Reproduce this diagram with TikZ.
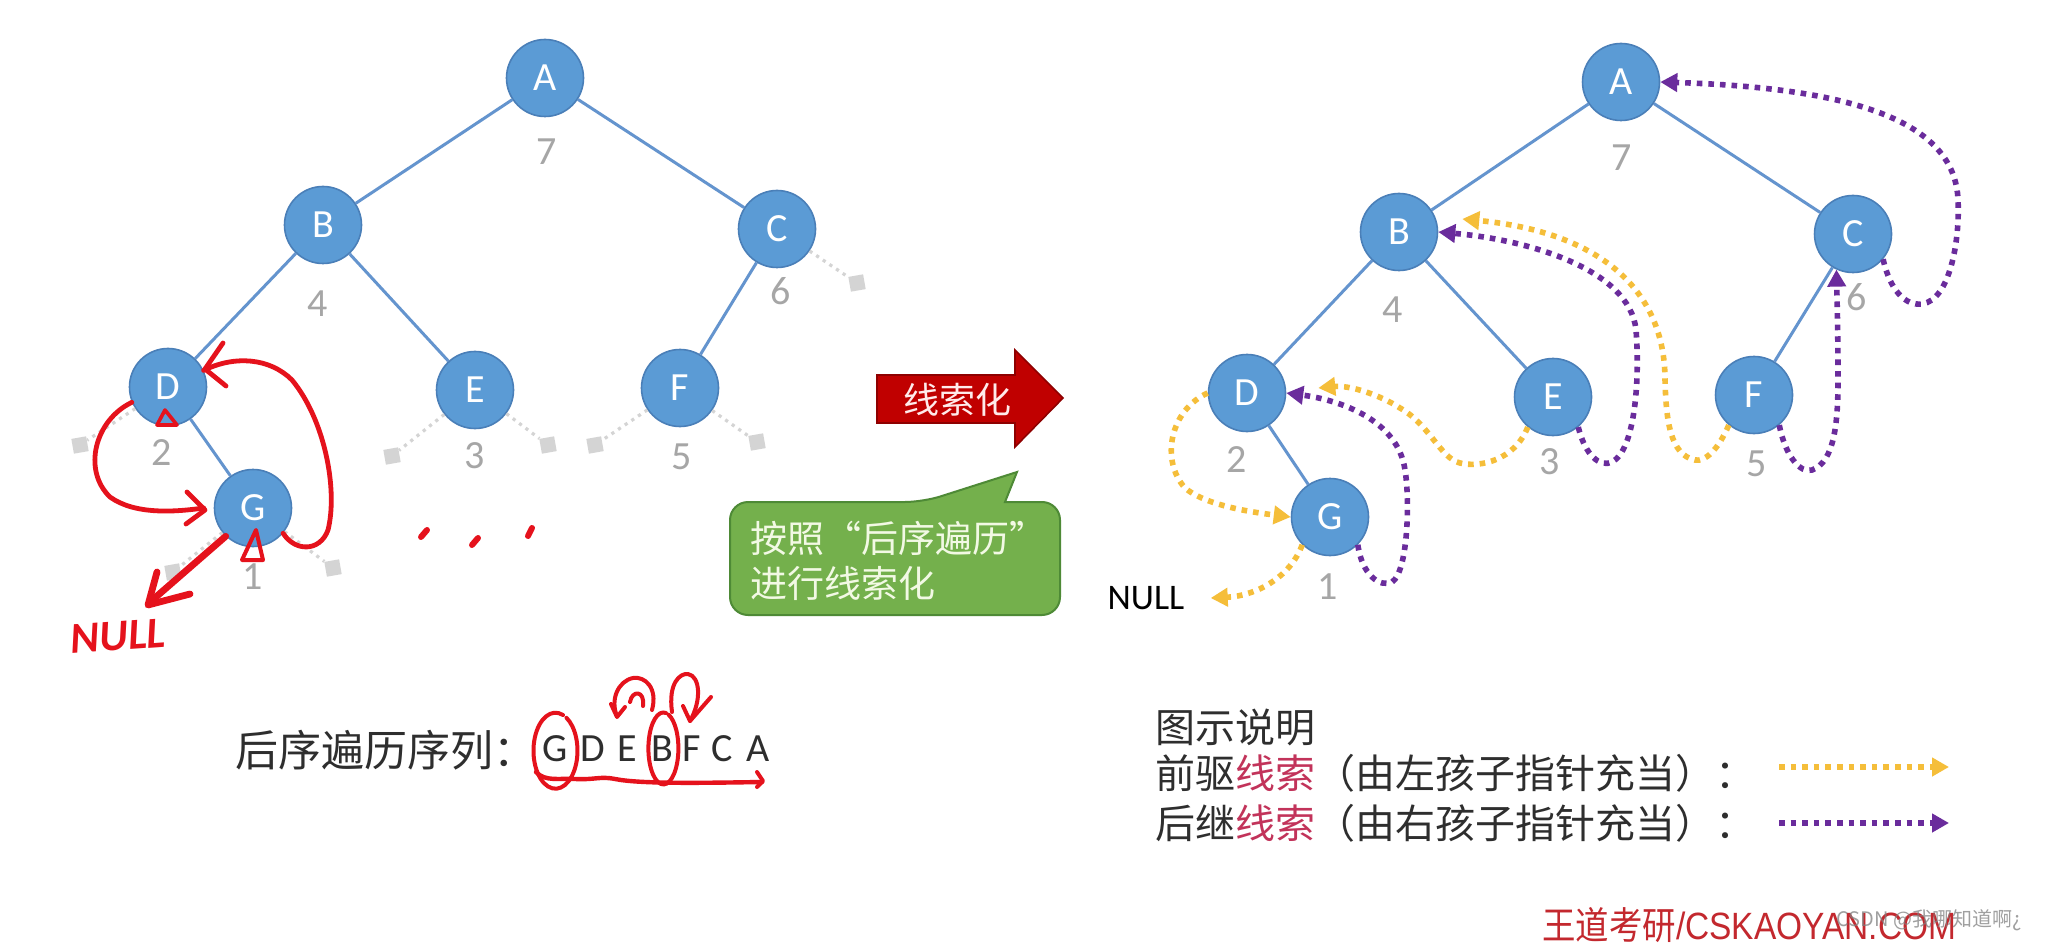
\documentclass[tikz,border=0pt]{standalone}
\usepackage{fontspec}
\setmainfont{Carlito}
\newfontfamily\cjk{Noto Sans CJK SC}
\newfontfamily\arialf{Liberation Sans}
\usetikzlibrary{arrows.meta,calc}
\definecolor{nodefill}{HTML}{5B9BD5}
\definecolor{nodedraw}{HTML}{4A7FB8}
\definecolor{edgec}{HTML}{6494CE}
\definecolor{lblgrey}{HTML}{A6A6A6}
\definecolor{stubgrey}{HTML}{D4D4D4}
\definecolor{thyel}{HTML}{F5BE3A}
\definecolor{thpur}{HTML}{6A2C9C}
\definecolor{penred}{HTML}{E5121C}
\definecolor{arrred}{HTML}{C00000}
\definecolor{arrdark}{HTML}{8E0000}
\definecolor{callg}{HTML}{74B04C}
\definecolor{calld}{HTML}{4E8A36}
\definecolor{calltxt}{HTML}{F2F9E4}
\definecolor{txtc}{HTML}{2E2E2E}
\definecolor{legred}{HTML}{C2335A}
\definecolor{footred}{HTML}{C3282E}
\begin{document}
\begin{tikzpicture}[x=0.5pt,y=-0.5pt,
  tnode/.style={circle,fill=nodefill,draw=nodedraw,line width=0.8pt,minimum size=38.5pt,inner sep=0pt,text=white,font=\fontsize{20}{20}\selectfont},
  tedge/.style={draw=edgec,line width=1.5pt},
  lbl/.style={text=lblgrey,font=\fontsize{20}{20}\selectfont,inner sep=0pt},
  stubln/.style={draw=stubgrey,line width=1.6pt,dash pattern=on 1.6pt off 2.4pt},
  stubsq/.style={fill=stubgrey,minimum size=7.5pt,inner sep=0pt,rotate=10},
  thr/.style={line width=2.8pt,dash pattern=on 2.8pt off 3pt},
  pred/.style={thr,draw=thyel,-{Triangle[length=8.5pt,width=9pt]}},
  succ/.style={thr,draw=thpur,-{Triangle[length=8.5pt,width=9pt]}},
  pen/.style={draw=penred,line width=2.4pt,line cap=round,line join=round},
  cjkt/.style={font=\cjk\fontsize{20}{24}\selectfont,text=txtc,inner sep=0pt,anchor=west},
  seqt/.style={font=\fontsize{20}{20}\selectfont,text=txtc,inner sep=0pt},
]
\useasboundingbox (0,0) rectangle (2048,946);
\fill[white] (0,0) rectangle (2048,946);

% ---------------- left tree ----------------
\node[tnode] (LA) at (545,78) {A};
\node[tnode] (LB) at (323,225) {B};
\node[tnode] (LC) at (777,229) {C};
\node[tnode] (LD) at (168,387) {D};
\node[tnode] (LE) at (475,390) {E};
\node[tnode] (LF) at (680,388) {F};
\node[tnode] (LG) at (253,508) {G};
\draw[tedge] (LA) -- (LB);
\draw[tedge] (LA) -- (LC);
\draw[tedge] (LB) -- (LD);
\draw[tedge] (LB) -- (LE);
\draw[tedge] (LC) -- (LF);
\draw[tedge] (LD) -- (LG);
\node[lbl] (L7) at (547,152) {7};
\node[lbl] (L4) at (318,304) {4};
\node[lbl] (L6) at (781,291) {6};
\node[lbl] (L2) at (162,453) {2};
\node[lbl] (L3) at (475,456) {3};
\node[lbl] (L5) at (682,457) {5};
\node[lbl] (L1) at (253,577) {1};
\node[stubsq] (sC) at (857,283) {};
\node[stubsq] (sDl) at (80,445) {};
\node[stubsq] (sEl) at (392,456) {};
\node[stubsq] (sEr) at (548,445) {};
\node[stubsq] (sFl) at (595,445) {};
\node[stubsq] (sFr) at (757,442) {};
\node[stubsq] (sGl) at (173,572) {};
\node[stubsq] (sGr) at (333,568) {};
\draw[stubln] (LC) -- (sC);
\draw[stubln] (LD) -- (sDl);
\draw[stubln] (LE) -- (sEl);
\draw[stubln] (LE) -- (sEr);
\draw[stubln] (LF) -- (sFl);
\draw[stubln] (LF) -- (sFr);
\draw[stubln] (LG) -- (sGl);
\draw[stubln] (LG) -- (sGr);

% red hand annotations on left tree
\draw[pen] (LD.203) .. controls (95,420) and (82,470) .. (110,497) .. controls (135,515) and (175,512) .. ([xshift=-5pt]LG.west);
\draw[pen] (187,492) -- (205,510) -- (186,524);
\draw[pen] (LG.-40) .. controls (295,552) and (320,552) .. (328,530) .. controls (338,490) and (325,420) .. (292,380) .. controls (270,358) and (235,355) .. (LD.25);
\draw[pen] (223,343) -- (205,369) -- (226,386);
\draw[pen,line width=1.8pt] (165,410) -- (157,425) -- (177,425) -- cycle;
\draw[pen,line width=2pt] (256,530) -- (242,560) -- (263,560) -- cycle;
\draw[pen,line width=3.4pt] (LG.226) -- (149,603);
\draw[pen,line width=3.4pt] (157,572) -- (148,605) -- (190,594);
\node[text=penred,font=\fontsize{22}{22}\selectfont\bfseries\itshape,rotate=4,inner sep=0pt] (hnull) at (118,636) {NULL};
\draw[pen,line width=3pt] (421,537) -- (427,530);
\draw[pen,line width=3pt] (472,545) -- (478,538);
\draw[pen,line width=3pt] (528,536) -- (532,528);

% ---------------- arrow and callout ----------------
\fill[arrred,draw=arrdark,line width=0.8pt] (877,375) -- (1015,375) -- (1015,350) -- (1063,398) -- (1015,447) -- (1015,423) -- (877,423) -- cycle;
\node[text=white!92!red,font=\cjk\fontsize{18}{18}\selectfont,inner sep=0pt] (thread) at (957,400) {线索化};
\draw[fill=callg,draw=calld,line width=1pt] (730,560) [rounded corners=9pt] -- (730,502) -- (923,502) [sharp corners] -- (1017,472) -- (1005,502) [rounded corners=9pt] -- (1060,502) -- (1060,615) -- (730,615) -- cycle;
\node[anchor=west,text=calltxt,font=\cjk\fontsize{18.5}{18.5}\selectfont,inner sep=0pt] (ct1) at (750,538) {按照“后序遍历”};
\node[anchor=west,text=calltxt,font=\cjk\fontsize{18.5}{18.5}\selectfont,inner sep=0pt] (ct2) at (750,583) {进行线索化};

% ---------------- right tree ----------------
\node[tnode] (RA) at (1621,82) {A};
\node[tnode] (RB) at (1399,232) {B};
\node[tnode] (RC) at (1853,234) {C};
\node[tnode] (RD) at (1247,393) {D};
\node[tnode] (RE) at (1553,397) {E};
\node[tnode] (RF) at (1754,395) {F};
\node[tnode] (RG) at (1330,517) {G};
\draw[tedge] (RA) -- (RB);
\draw[tedge] (RA) -- (RC);
\draw[tedge] (RB) -- (RD);
\draw[tedge] (RB) -- (RE);
\draw[tedge] (RC) -- (RF);
\draw[tedge] (RD) -- (RG);
\node[lbl] (R7) at (1622,158) {7};
\node[lbl] (R4) at (1393,310) {4};
\node[lbl] (R6) at (1857,297) {6};
\node[lbl] (R2) at (1237,460) {2};
\node[lbl] (R3) at (1550,462) {3};
\node[lbl] (R5) at (1757,464) {5};
\node[lbl] (R1) at (1328,587) {1};
\node[font=\fontsize{18}{18}\selectfont,text=black,inner sep=0pt] (RNULL) at (1146,598) {NULL};

% threads
\draw[pred] (RG.225) .. controls (1290,578) and (1255,596) .. ([xshift=13pt]RNULL.east);
\draw[succ] (RG.-45) .. controls (1362,575) and (1380,588) .. (1392,582) .. controls (1408,572) and (1410,500) .. (1405,470) .. controls (1398,420) and (1340,400) .. (RD.east);
\draw[pred] (RD.west) .. controls (1170,410) and (1160,460) .. (1185,488) .. controls (1205,505) and (1250,512) .. (RG.west);
\draw[pred] (RE.230) .. controls (1515,460) and (1480,468) .. (1460,463) .. controls (1440,458) and (1430,425) .. (1400,408) .. controls (1380,395) and (1350,385) .. ([shift={(16pt,2.5pt)}]RD.east);
\draw[succ] (RE.-50) .. controls (1585,455) and (1600,468) .. (1612,462) .. controls (1635,450) and (1640,380) .. (1636,330) .. controls (1630,270) and (1530,240) .. (RB.east);
\draw[pred] (RF.230) .. controls (1718,450) and (1705,462) .. (1695,460) .. controls (1670,455) and (1666,420) .. (1665,380) .. controls (1665,290) and (1600,232) .. ([shift={(12pt,6.5pt)}]RB.east);
\draw[succ] (RF.-50) .. controls (1785,455) and (1800,474) .. (1812,470) .. controls (1835,462) and (1838,420) .. (1838,380) .. controls (1838,330) and (1837,300) .. (RC.245);
\draw[succ] (RC.-40) .. controls (1890,290) and (1905,306) .. (1922,304) .. controls (1950,300) and (1960,240) .. (1958,200) .. controls (1955,120) and (1850,88) .. (RA.east);

% ---------------- sequence ----------------
\node[cjkt,font=\cjk\fontsize{21.5}{24}\selectfont] (seqlbl) at (235,750) {后序遍历序列：};
\node[seqt] (sG) at (555,749) {G};
\node[seqt] (sD) at (593,749) {D};
\node[seqt] (sE) at (627,749) {E};
\node[seqt] (sB) at (662,749) {B};
\node[seqt] (sF) at (692,749) {F};
\node[seqt] (sCc) at (722,749) {C};
\node[seqt] (sA) at (758,749) {A};
\draw[pen,line width=2pt] (sG) ++(4pt,17pt) arc[start angle=70,end angle=420,x radius=11pt,y radius=19pt];
\draw[pen,line width=2pt] (sB) ++(2pt,18pt) arc[start angle=80,end angle=430,x radius=7.5pt,y radius=18pt];
\draw[pen,line width=2pt] (652,710) .. controls (658,688) and (645,676) .. (633,678) .. controls (618,681) and (610,700) .. (617,716);
\draw[pen,line width=2pt] (611,704) -- (617,717) -- (625,707);
\draw[pen,line width=2pt] (630,702) .. controls (632,690) and (645,690) .. (643,706);
\draw[pen,line width=2pt] (672,712) .. controls (668,683) and (680,673) .. (688,674) .. controls (700,676) and (702,700) .. (690,721);
\draw[pen,line width=2pt] (683,706) -- (690,721) -- (711,697);
\draw[pen,line width=2.2pt] (536,772) .. controls (545,782) and (560,778) .. (575,779) .. controls (595,780) and (600,776) .. (615,779) .. controls (640,784) and (700,783) .. (762,782);
\draw[pen,line width=2pt] (757,772) -- (763,781) -- (757,787);

% ---------------- legend ----------------
\node[cjkt] (lg0) at (1155,727) {图示说明};
\node[cjkt] (lg1) at (1155,773) {前驱{\color{legred}线索}（由左孩子指针充当）：};
\node[cjkt] (lg2) at (1155,823) {后继{\color{legred}线索}（由右孩子指针充当）：};
\coordinate (ly1) at (1779,767);
\coordinate (ly2) at (1949,767);
\coordinate (lp1) at (1779,823);
\coordinate (lp2) at (1949,823);
\draw[pred] (ly1) -- (ly2);
\draw[succ] (lp1) -- (lp2);

% ---------------- footer ----------------
\node[anchor=west,text=footred,font=\fontsize{19}{19}\selectfont,inner sep=0pt,xscale=0.88] (foot) at (1542,925) {{\cjk 王道考研}{\arialf /CSKAOYAN.COM}};
\node[anchor=west,text=gray,opacity=0.75,font=\cjk\fontsize{10}{10}\selectfont,inner sep=0pt] (wm) at (1836,920) {CSDN @我哪知道啊¿};
\end{tikzpicture}
\end{document}
